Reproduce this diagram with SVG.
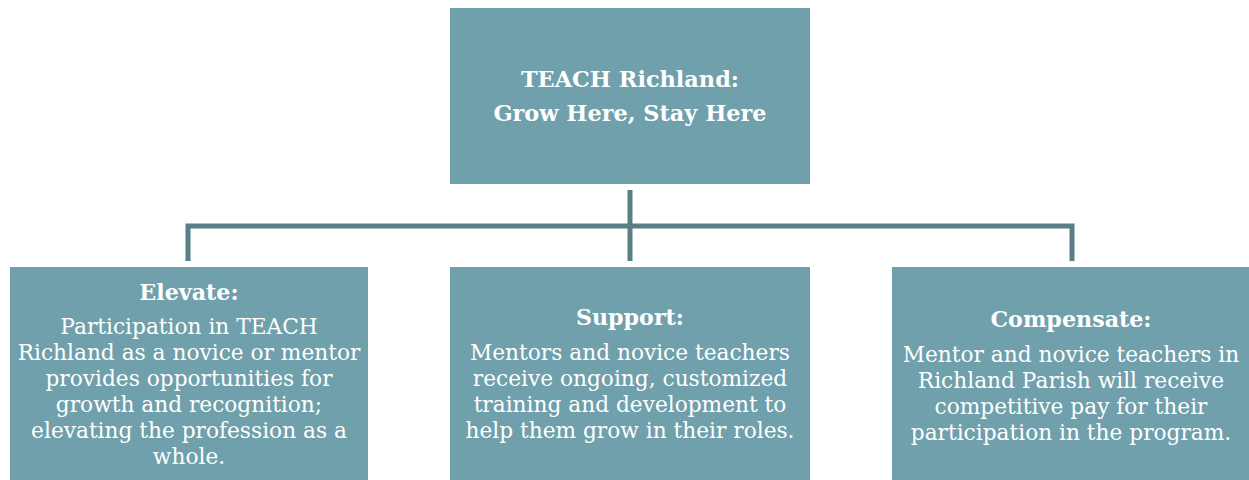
<svg xmlns="http://www.w3.org/2000/svg" width="1249" height="480" viewBox="0 0 1249 480">
<style>
.box{fill:#6fa0ab}
.conn{stroke:#5a7f87;stroke-width:5;fill:none}
text{font-family:"DejaVu Serif","Liberation Serif",serif;fill:#ffffff;text-anchor:middle}
.title{font-size:22.4px;font-weight:bold}
.head{font-size:22.2px;font-weight:bold}
.body{font-size:21.7px}
</style>
<rect width="1249" height="480" fill="#ffffff"/>
<g id="connectors">
<line class="conn" x1="630" y1="190" x2="630" y2="261"/>
<polyline class="conn" points="188,261 188,226 1072,226 1072,261"/>
</g>
<g id="top">
<rect class="box" x="450" y="8" width="360" height="176"/>
<text class="title" x="630" y="87">TEACH Richland:</text>
<text class="title" x="630" y="121">Grow Here, Stay Here</text>
</g>
<g id="elevate">
<rect class="box" x="10" y="267" width="358" height="213"/>
<text class="head" x="189" y="300">Elevate:</text>
<text class="body" x="189" y="334">Participation in TEACH</text>
<text class="body" x="189" y="360">Richland as a novice or mentor</text>
<text class="body" x="189" y="386">provides opportunities for</text>
<text class="body" x="189" y="412">growth and recognition;</text>
<text class="body" x="189" y="438">elevating the profession as a</text>
<text class="body" x="189" y="464">whole.</text>
</g>
<g id="support">
<rect class="box" x="450" y="267" width="360" height="213"/>
<text class="head" x="630" y="325">Support:</text>
<text class="body" x="630" y="360">Mentors and novice teachers</text>
<text class="body" x="630" y="386">receive ongoing, customized</text>
<text class="body" x="630" y="412">training and development to</text>
<text class="body" x="630" y="438">help them grow in their roles.</text>
</g>
<g id="compensate">
<rect class="box" x="892" y="267" width="357" height="213"/>
<text class="head" x="1071" y="327">Compensate:</text>
<text class="body" x="1071" y="362">Mentor and novice teachers in</text>
<text class="body" x="1071" y="388">Richland Parish will receive</text>
<text class="body" x="1071" y="414">competitive pay for their</text>
<text class="body" x="1071" y="440">participation in the program.</text>
</g>
</svg>
